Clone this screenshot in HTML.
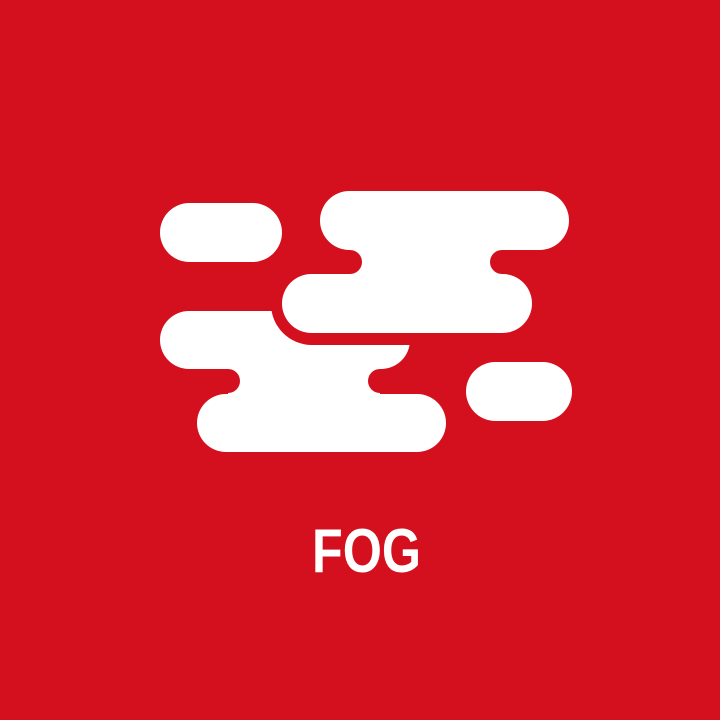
<!DOCTYPE html>
<html><head><meta charset="utf-8"><style>
html,body{margin:0;padding:0;background:#d4101f;}
svg{display:block;}
</style></head><body>
<svg width="720" height="720" viewBox="0 0 720 720">
<rect x="0" y="0" width="720" height="720" fill="#d4101f"/>
<g fill="#fff">
  <rect x="160" y="203" width="122" height="59" rx="29.5"/>
  <rect x="466" y="362" width="106" height="59" rx="29.5"/>
  <g>
    <rect x="160" y="311" width="250" height="58" rx="29"/>
    <rect x="197" y="394" width="249" height="58" rx="29"/>
    <rect x="228" y="365" width="152" height="32"/>
    <circle cx="228" cy="381" r="12" fill="#d4101f"/>
    <circle cx="380" cy="381" r="12" fill="#d4101f"/>
  </g>
  <rect x="271" y="263" width="272" height="82" rx="41" fill="#d4101f"/>
  <g>
    <rect x="320" y="191" width="249" height="59" rx="29.5"/>
    <rect x="282" y="274" width="250" height="59" rx="29.5"/>
    <rect x="350" y="246" width="152" height="32"/>
    <circle cx="350" cy="262" r="12" fill="#d4101f"/>
    <circle cx="502" cy="262" r="12" fill="#d4101f"/>
  </g>
</g>
<text x="312" y="572" font-family="Liberation Sans, sans-serif" font-weight="bold" font-size="62" fill="#fff" textLength="109" lengthAdjust="spacingAndGlyphs">FOG</text>
</svg>
</body></html>
